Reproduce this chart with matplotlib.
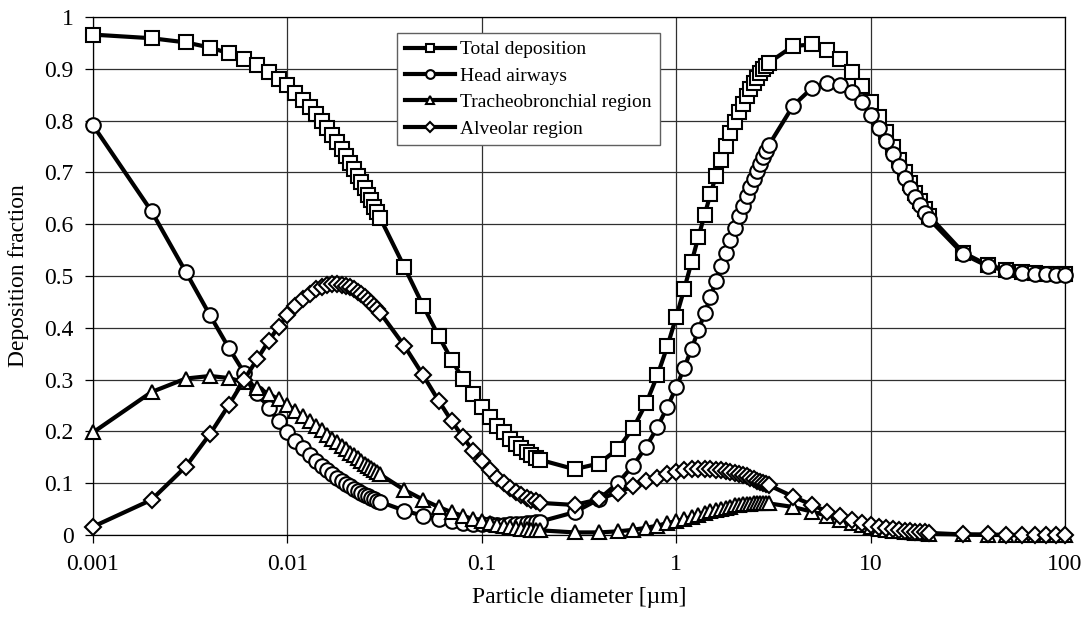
import matplotlib
matplotlib.use('Agg')
import matplotlib.pyplot as plt
from matplotlib.ticker import FixedLocator, FixedFormatter, NullLocator

# Particle diameters [um]
diameter = [
    0.001, 0.002, 0.003, 0.004, 0.005, 0.006, 0.007, 0.008, 0.009,
    0.010, 0.011, 0.012, 0.013, 0.014, 0.015, 0.016, 0.017, 0.018, 0.019, 0.020,
    0.021, 0.022, 0.023, 0.024, 0.025, 0.026, 0.027, 0.028, 0.029, 0.030,
    0.04, 0.05, 0.06, 0.07, 0.08, 0.09,
    0.10, 0.11, 0.12, 0.13, 0.14, 0.15, 0.16, 0.17, 0.18, 0.19, 0.20,
    0.3, 0.4, 0.5, 0.6, 0.7, 0.8, 0.9,
    1.0, 1.1, 1.2, 1.3, 1.4, 1.5, 1.6, 1.7, 1.8, 1.9, 2.0,
    2.1, 2.2, 2.3, 2.4, 2.5, 2.6, 2.7, 2.8, 2.9, 3.0,
    4, 5, 6, 7, 8, 9,
    10, 11, 12, 13, 14, 15, 16, 17, 18, 19, 20,
    30, 40, 50, 60, 70, 80, 90, 100,
]

total_deposition = [
    0.966, 0.959, 0.951, 0.941, 0.930, 0.919, 0.907, 0.894, 0.881,
    0.868, 0.854, 0.840, 0.827, 0.813, 0.799, 0.785, 0.772, 0.758, 0.745, 0.732,
    0.719, 0.706, 0.693, 0.681, 0.669, 0.657, 0.646, 0.634, 0.623, 0.612,
    0.517, 0.442, 0.384, 0.338, 0.301, 0.272,
    0.248, 0.228, 0.211, 0.198, 0.186, 0.176, 0.168, 0.161, 0.155, 0.149, 0.145,
    0.127, 0.138, 0.166, 0.206, 0.254, 0.308, 0.364,
    0.421, 0.475, 0.527, 0.575, 0.618, 0.658, 0.693, 0.724, 0.751, 0.776, 0.797,
    0.816, 0.833, 0.848, 0.861, 0.872, 0.882, 0.891, 0.899, 0.906, 0.912,
    0.944, 0.947, 0.936, 0.918, 0.893, 0.866,
    0.836, 0.806, 0.778, 0.750, 0.724, 0.701, 0.680, 0.661, 0.644, 0.629, 0.616,
    0.545, 0.521, 0.512, 0.508, 0.505, 0.504, 0.503, 0.503,
]

head_airways = [
    0.791, 0.625, 0.508, 0.424, 0.361, 0.313, 0.275, 0.245, 0.220,
    0.199, 0.182, 0.167, 0.154, 0.143, 0.133, 0.125, 0.117, 0.110, 0.104, 0.099,
    0.094, 0.089, 0.085, 0.081, 0.078, 0.075, 0.072, 0.069, 0.066, 0.064,
    0.047, 0.037, 0.031, 0.027, 0.024, 0.022,
    0.021, 0.021, 0.020, 0.020, 0.021, 0.021, 0.022, 0.023, 0.024, 0.025, 0.026,
    0.044, 0.069, 0.100, 0.134, 0.170, 0.208, 0.247,
    0.285, 0.323, 0.360, 0.395, 0.428, 0.460, 0.490, 0.519, 0.545, 0.570, 0.593,
    0.615, 0.635, 0.654, 0.671, 0.688, 0.703, 0.717, 0.730, 0.742, 0.753,
    0.829, 0.863, 0.873, 0.869, 0.855, 0.835,
    0.811, 0.786, 0.760, 0.735, 0.712, 0.690, 0.670, 0.653, 0.637, 0.622, 0.610,
    0.542, 0.519, 0.510, 0.506, 0.504, 0.503, 0.502, 0.502,
]

tracheobronchial = [
    0.198, 0.276, 0.302, 0.307, 0.303, 0.295, 0.284, 0.273, 0.262,
    0.251, 0.240, 0.230, 0.220, 0.211, 0.202, 0.194, 0.186, 0.179, 0.172, 0.166,
    0.159, 0.154, 0.148, 0.143, 0.138, 0.133, 0.129, 0.125, 0.121, 0.117,
    0.087, 0.068, 0.054, 0.044, 0.037, 0.031,
    0.027, 0.023, 0.020, 0.018, 0.016, 0.014, 0.012, 0.011, 0.010, 0.009, 0.009,
    0.005, 0.005, 0.007, 0.010, 0.014, 0.018, 0.023,
    0.027, 0.031, 0.035, 0.039, 0.043, 0.046, 0.049, 0.051, 0.053, 0.055, 0.057,
    0.058, 0.059, 0.060, 0.060, 0.061, 0.061, 0.061, 0.061, 0.061, 0.061,
    0.054, 0.045, 0.037, 0.029, 0.023, 0.019,
    0.015, 0.012, 0.010, 0.008, 0.007, 0.006, 0.005, 0.004, 0.003, 0.003, 0.002,
    0.001, 0.000, 0.000, 0.000, 0.000, 0.000, 0.000, 0.000,
]

alveolar = [
    0.016, 0.068, 0.132, 0.195, 0.251, 0.300, 0.340, 0.374, 0.402,
    0.424, 0.442, 0.456, 0.466, 0.474, 0.479, 0.482, 0.484, 0.484, 0.483, 0.481,
    0.478, 0.474, 0.469, 0.465, 0.459, 0.454, 0.448, 0.442, 0.436, 0.429,
    0.365, 0.308, 0.259, 0.220, 0.189, 0.163,
    0.142, 0.125, 0.111, 0.100, 0.091, 0.083, 0.077, 0.072, 0.068, 0.065, 0.062,
    0.058, 0.069, 0.082, 0.094, 0.104, 0.111, 0.117,
    0.122, 0.125, 0.127, 0.127, 0.128, 0.127, 0.126, 0.125, 0.123, 0.122, 0.119,
    0.117, 0.115, 0.113, 0.110, 0.108, 0.105, 0.103, 0.100, 0.098, 0.096,
    0.074, 0.058, 0.045, 0.036, 0.029, 0.024,
    0.019, 0.016, 0.013, 0.011, 0.010, 0.008, 0.007, 0.006, 0.005, 0.005, 0.004,
    0.001, 0.001, 0.000, 0.000, 0.000, 0.000, 0.000, 0.000,
]

x_ticks = [0.001, 0.01, 0.1, 1, 10, 100]
x_tick_labels = ['0.001', '0.01', '0.1', '1', '10', '100']
y_ticks = [0, 0.1, 0.2, 0.3, 0.4, 0.5, 0.6, 0.7, 0.8, 0.9, 1]
y_tick_labels = ['0', '0.1', '0.2', '0.3', '0.4', '0.5', '0.6', '0.7', '0.8', '0.9', '1']


def plot_deposition():
    plt.rcParams['font.family'] = ['Liberation Serif', 'DejaVu Serif']

    fig = plt.figure(figsize=(10.85, 6.3), dpi=100)
    ax = fig.add_axes([93 / 1085, 95 / 630, 972 / 1085, 518 / 630])

    series = [
        (total_deposition, 's', 10.5, 'Total deposition'),
        (head_airways, 'o', 10.5, 'Head airways'),
        (tracheobronchial, '^', 10.5, 'Tracheobronchial region'),
        (alveolar, 'D', 8.5, 'Alveolar region'),
    ]
    for values, marker, size, label in series:
        ax.plot(diameter, values, color='black', linewidth=3,
                marker=marker, markersize=size, markerfacecolor='white',
                markeredgecolor='black', markeredgewidth=1.5,
                label=label, clip_on=False, zorder=3)

    ax.set_xscale('log')
    ax.set_xlim(0.001, 100)
    ax.set_ylim(0, 1)

    ax.xaxis.set_major_locator(FixedLocator(x_ticks))
    ax.xaxis.set_major_formatter(FixedFormatter(x_tick_labels))
    ax.xaxis.set_minor_locator(NullLocator())
    ax.yaxis.set_major_locator(FixedLocator(y_ticks))
    ax.yaxis.set_major_formatter(FixedFormatter(y_tick_labels))

    ax.grid(True, color='#303030', linewidth=0.9, zorder=0)
    ax.set_axisbelow(True)
    for spine in ax.spines.values():
        spine.set_color('black')
        spine.set_linewidth(0.9)

    ax.tick_params(axis='both', direction='out', length=6, width=0.9,
                   labelsize=17, color='black')
    ax.tick_params(axis='x', pad=8)
    ax.tick_params(axis='y', pad=8)

    ax.set_xlabel('Particle diameter [µm]', fontsize=17, labelpad=8)
    ax.set_ylabel('Deposition fraction', fontsize=17, labelpad=11)

    leg = ax.legend(loc='upper left', bbox_to_anchor=(0.3128, 0.969),
                    borderaxespad=0, fontsize=14, frameon=True, fancybox=False,
                    edgecolor='#606060', framealpha=1, markerscale=0.6,
                    handlelength=2.6, handletextpad=0.25, labelspacing=0.45,
                    borderpad=0.4)
    leg.get_frame().set_linewidth(1.0)
    leg.set_zorder(5)

    fig.savefig('out.png', dpi=100)


def main():
    plot_deposition()


if __name__ == "__main__":
    main()
